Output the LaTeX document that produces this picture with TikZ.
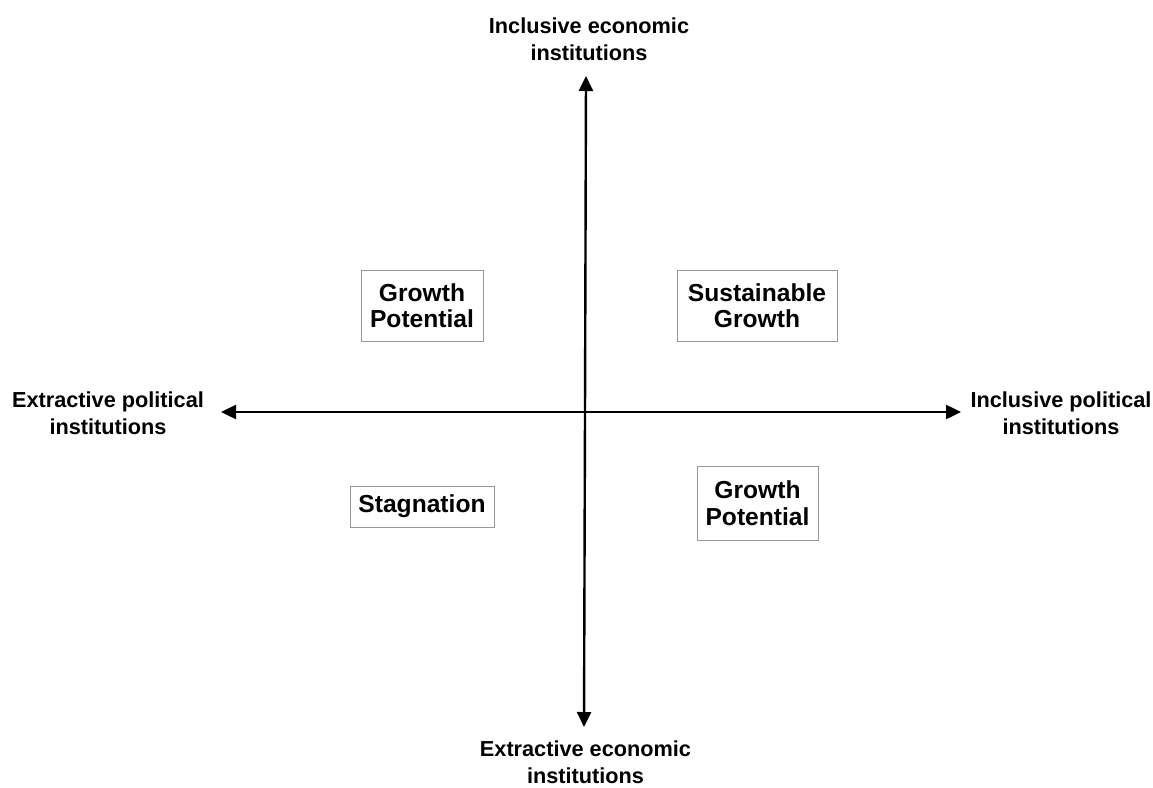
\documentclass[tikz,border=0pt]{standalone}
\usepackage{fontspec}
\setmainfont{Liberation Sans}
\usetikzlibrary{arrows.meta}
\begin{document}
\begin{tikzpicture}[x=1pt,y=-1pt,
  axislabel/.style={font=\bfseries\fontsize{21.7}{26.5}\selectfont, align=center, inner sep=0pt},
  quadbox/.style={draw=black!40, line width=1pt, fill=white, font=\bfseries\fontsize{24.6}{26.5}\selectfont, align=center, inner sep=0pt},
  axis/.style={line width=2.4pt, -{Triangle[length=15pt,width=14pt]}}
]
\useasboundingbox (0,0) rectangle (1153,787);
% axis end points
\coordinate (o) at (585,412);
\coordinate (up) at (586,76);
\coordinate (down) at (584,727);
\coordinate (left) at (221,412);
\coordinate (right) at (961,412);
\draw[axis] (o) -- (up);
\draw[axis] (o) -- (down);
\draw[axis] (o) -- (left);
\draw[axis] (o) -- (right);
% axis labels
\node[axislabel] (lt) at (589,39) {Inclusive economic\\institutions};
\node[axislabel] (lb) at (585.5,762) {Extractive economic\\institutions};
\node[axislabel] (ll) at (108,413) {Extractive political\\institutions};
\node[axislabel] (lr) at (1061,413) {Inclusive political\\institutions};
% quadrant boxes
\node[quadbox, minimum width=122pt, minimum height=71pt] (q1) at (422,305.5) {Growth\\Potential};
\node[quadbox, minimum width=160pt, minimum height=71pt] (q2) at (757,305.5) {Sustainable\\Growth};
\node[quadbox, minimum width=144pt, minimum height=41pt] (q3) at (422,506.5) {Stagnation};
\node[quadbox, minimum width=121pt, minimum height=74pt] (q4) at (757.5,503) {Growth\\Potential};
\end{tikzpicture}
\end{document}
